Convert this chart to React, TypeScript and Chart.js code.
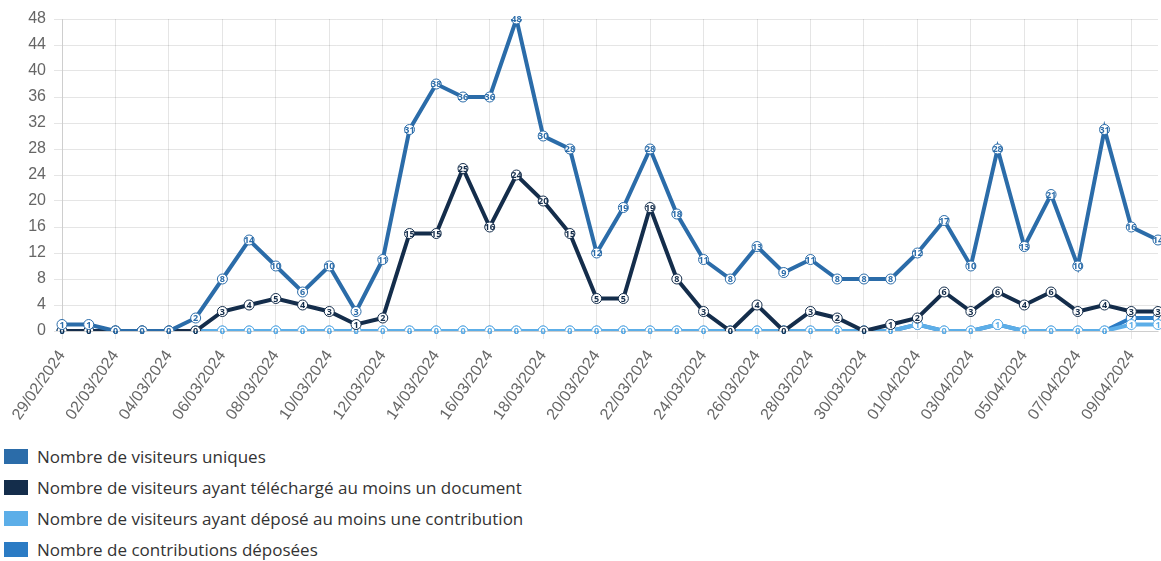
import React, { useEffect, useRef } from "react";
import { Chart, registerables } from "chart.js";
Chart.register(...registerables);

const labels = [
  "29/02/2024", "01/03/2024", "02/03/2024", "03/03/2024", "04/03/2024", "05/03/2024",
  "06/03/2024", "07/03/2024", "08/03/2024", "09/03/2024", "10/03/2024", "11/03/2024",
  "12/03/2024", "13/03/2024", "14/03/2024", "15/03/2024", "16/03/2024", "17/03/2024",
  "18/03/2024", "19/03/2024", "20/03/2024", "21/03/2024", "22/03/2024", "23/03/2024",
  "24/03/2024", "25/03/2024", "26/03/2024", "27/03/2024", "28/03/2024", "29/03/2024",
  "30/03/2024", "31/03/2024", "01/04/2024", "02/04/2024", "03/04/2024", "04/04/2024",
  "05/04/2024", "06/04/2024", "07/04/2024", "08/04/2024", "09/04/2024", "10/04/2024",
];

const uniqueVisitors = [1, 1, 0, 0, 0, 2, 8, 14, 10, 6, 10, 3, 11, 31, 38, 36, 36, 48, 30, 28, 12, 19, 28, 18, 11, 8, 13, 9, 11, 8, 8, 8, 12, 17, 10, 28, 13, 21, 10, 31, 16, 14];
const downloadVisitors = [0, 0, 0, 0, 0, 0, 3, 4, 5, 4, 3, 1, 2, 15, 15, 25, 16, 24, 20, 15, 5, 5, 19, 8, 3, 0, 4, 0, 3, 2, 0, 1, 2, 6, 3, 6, 4, 6, 3, 4, 3, 3];
const contributorVisitors = [0, 0, 0, 0, 0, 0, 0, 0, 0, 0, 0, 0, 0, 0, 0, 0, 0, 0, 0, 0, 0, 0, 0, 0, 0, 0, 0, 0, 0, 0, 0, 0, 1, 0, 0, 1, 0, 0, 0, 0, 1, 1];
const contributions = [0, 0, 0, 0, 0, 0, 0, 0, 0, 0, 0, 0, 0, 0, 0, 0, 0, 0, 0, 0, 0, 0, 0, 0, 0, 0, 0, 0, 0, 0, 0, 0, 1, 0, 0, 1, 0, 0, 0, 0, 2, 2];

const seriesNames = [
  "Nombre de visiteurs uniques",
  "Nombre de visiteurs ayant téléchargé au moins un document",
  "Nombre de visiteurs ayant déposé au moins une contribution",
  "Nombre de contributions déposées",
];
const seriesColors = ["#2b6ca9", "#142d4b", "#5caee8", "#2b7bc4"];
const yTicks = [0, 4, 8, 12, 16, 20, 24, 28, 32, 36, 40, 44, 48];

const valueLabels = {
  id: "valueLabels",
  afterDatasetDraw(chart: any, args: any) {
    const ctx = chart.ctx;
    const ds = chart.data.datasets[args.index];
    ctx.save();
    ctx.font = "bold 9px 'Open Sans', sans-serif";
    ctx.textAlign = "center";
    ctx.textBaseline = "middle";
    ctx.fillStyle = ds.borderColor;
    args.meta.data.forEach((pt: any, i: number) => {
      ctx.fillText(String(ds.data[i]), pt.x, pt.y + 0.5);
    });
    ctx.restore();
  },
};

export default function App() {
  const ref = useRef<HTMLCanvasElement>(null);
  useEffect(() => {
    document.body.style.margin = "0";
    const data = [uniqueVisitors, downloadVisitors, contributorVisitors, contributions];
    const tickFont = { size: 16, family: "'Liberation Sans', Arial, sans-serif" };
    const chart = new Chart(ref.current!, {
      type: "line",
      data: {
        labels,
        datasets: data.map((d, k) => ({
          label: seriesNames[k],
          data: d,
          borderColor: seriesColors[k],
          backgroundColor: seriesColors[k],
          borderWidth: 4,
          pointRadius: 5,
          pointHoverRadius: 5,
          pointBackgroundColor: "#ffffff",
          pointBorderColor: seriesColors[k],
          pointBorderWidth: 1,
          tension: 0,
          fill: false,
        })),
      },
      options: {
        animation: false,
        responsive: false,
        maintainAspectRatio: false,
        layout: { padding: { top: 19, right: 0, left: 0, bottom: 0 } },
        plugins: { legend: { display: false }, tooltip: { enabled: false } },
        scales: {
          x: {
            afterFit: (axis: any) => {
              axis.height = 95;
            },
            ticks: {
              color: "#666",
              font: tickFont,
              minRotation: 55,
              maxRotation: 55,
              padding: 8,
              autoSkip: false,
              callback: (_v: any, i: number) => (i % 2 === 0 ? labels[i] : null),
            },
            grid: { color: "rgba(0,0,0,0.1)" },
          },
          y: {
            min: 0,
            max: 48,
            afterFit: (axis: any) => {
              axis.width = 62;
            },
            afterBuildTicks: (axis: any) => {
              axis.ticks = yTicks.map((v) => ({ value: v }));
            },
            ticks: {
              color: "#666",
              font: tickFont,
              padding: 8,
            },
            grid: { color: "rgba(0,0,0,0.1)" },
          },
        },
      },
      plugins: [valueLabels],
    });
    return () => chart.destroy();
  }, []);

  return (
    <div style={{ position: "relative", width: 1161, height: 561, overflow: "hidden", background: "#fff" }}>
      <canvas ref={ref} width={1164} height={426} style={{ position: "absolute", left: 0, top: 0 }} />
      <div style={{ position: "absolute", left: 4, top: 441, fontFamily: "'Open Sans', sans-serif", fontSize: 17, color: "#333" }}>
        {seriesNames.map((n, k) => (
          <div key={k} style={{ display: "flex", alignItems: "center", height: 31 }}>
            <span style={{ display: "inline-block", width: 24, height: 15, background: seriesColors[k], marginRight: 9 }} />
            <span>{n}</span>
          </div>
        ))}
      </div>
    </div>
  );
}
